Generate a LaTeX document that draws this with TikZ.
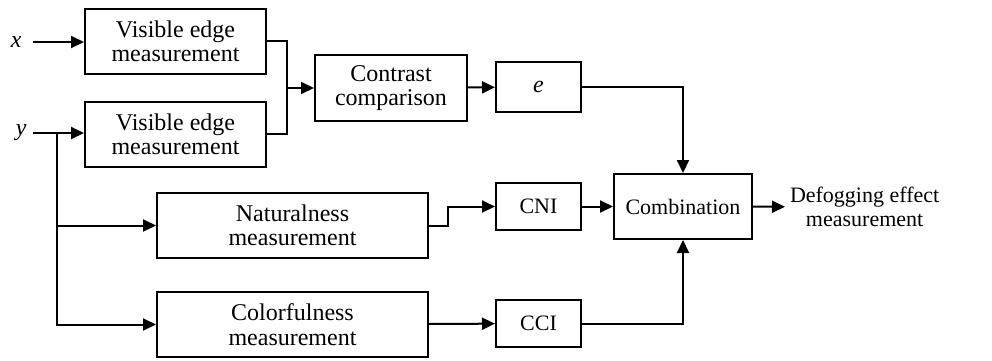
\documentclass[tikz,border=0pt]{standalone}
\usepackage{fontspec}
\setmainfont{Liberation Serif}
\usetikzlibrary{arrows.meta}
\tikzset{
  blk/.style={draw, line width=1pt, inner sep=0pt, align=center,
    font=\fontsize{12}{12.2}\selectfont},
  sblk/.style={blk, font=\fontsize{11}{12}\selectfont},
  lbl/.style={inner sep=0pt, font=\fontsize{12}{12}\selectfont},
  arr/.style={line width=1pt, -{Triangle[length=6.5pt,width=6pt]}},
  ln/.style={line width=1pt}
}
\begin{document}
\begin{tikzpicture}[x=0.5pt,y=-0.5pt]
  \useasboundingbox (0,0) rectangle (992,360);
  \node[lbl, anchor=east, inner xsep=5.5pt] (x) at (33,42) {\textit{x}};
  \node[lbl, anchor=east, inner xsep=3pt] (y) at (33,133) {\textit{y}};
  \node[blk, minimum width=90.5pt, minimum height=32.5pt] (ve1) at (175.5,41) {Visible edge\\measurement};
  \node[blk, minimum width=90.5pt, minimum height=32.5pt] (ve2) at (175.5,134) {Visible edge\\measurement};
  \node[blk, minimum width=76pt, minimum height=33pt] (cc) at (391,88) {Contrast\\comparison};
  \node[blk, minimum width=42.5pt, minimum height=25pt] (e) at (538.5,87) {\textit{e}};
  \node[blk, minimum width=135.5pt, minimum height=32.5pt] (nat) at (292.5,225.5) {Naturalness\\measurement};
  \node[blk, minimum width=135.5pt, minimum height=32.5pt] (col) at (292.5,324.5) {Colorfulness\\measurement};
  \node[sblk, minimum width=42.5pt, minimum height=23.5pt] (cni) at (538.5,206.5) {CNI};
  \node[sblk, minimum width=42.5pt, minimum height=23.5pt] (cci) at (538.5,323.5) {CCI};
  \node[sblk, minimum width=69pt, minimum height=32.5pt] (comb) at (683,206.5) {Combination};
  \node[sblk, draw=none, anchor=west, inner xsep=2pt] (out) at (785,207) {Defogging effect\\measurement};
  \coordinate (m) at (287,88);
  \coordinate (yj) at (57,133);
  % inputs
  \draw[arr] (x) -- (x -| ve1.west);
  \draw[arr] (y) -- (y -| ve2.west);
  \draw[ln] (ve1.east) -| (m);
  \draw[ln] (ve2.east) -| (m);
  \draw[arr] (m) -- (cc);
  \draw[arr] (cc) -- (e);
  \draw[arr] (yj) |- (nat);
  \draw[arr] (yj) |- (col);
  % outputs
  \draw[arr] (nat.east) -- ++(19,0) |- (cni);
  \draw[arr] (col) -- (cci);
  \draw[arr] (e) -| (comb);
  \draw[arr] (cni) -- (comb);
  \draw[arr] (cci) -| (comb);
  \draw[arr] (comb) -- (out);
\end{tikzpicture}
\end{document}
